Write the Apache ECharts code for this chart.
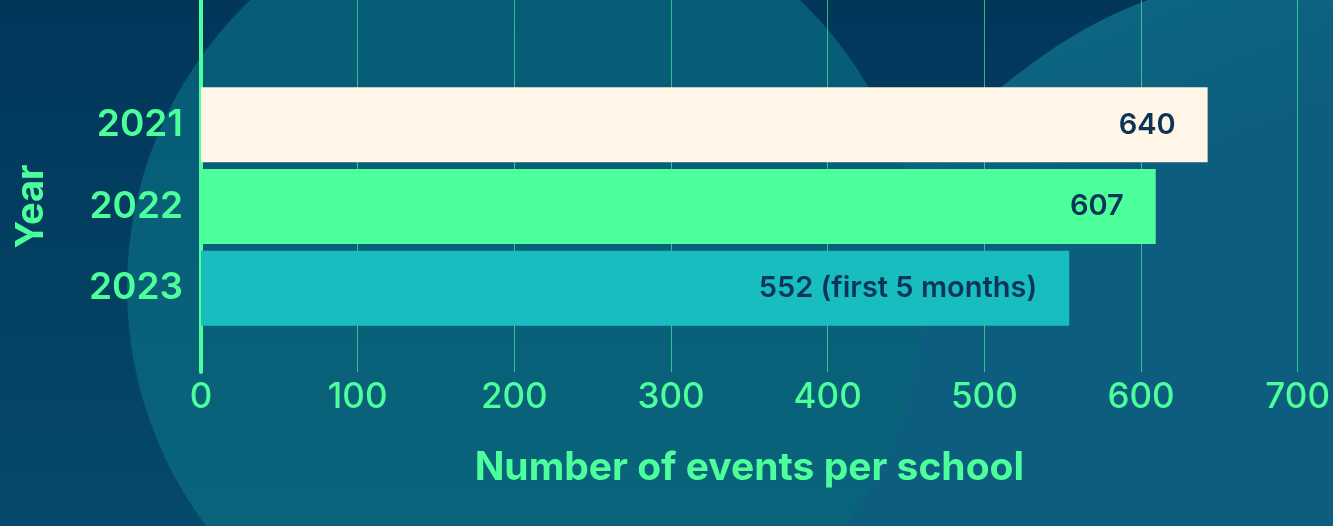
<!DOCTYPE html>
<html>
<head>
<meta charset="utf-8">
<script src="https://cdn.jsdelivr.net/npm/echarts@6/dist/echarts.min.js"></script>
<style>
html,body{margin:0;padding:0;background:#0b6a82;}
#chart{width:1333px;height:526px;}
</style>
</head>
<body>
<div id="chart"></div>
<script>
const years = ['2021', '2022', '2023'];
const values = [640, 607, 552];
const valueLabels = ['640', '607', '552 (first 5 months)'];
const barColors = ['#FFF6E8', '#4DFF9B', '#18BDC0'];
const xTicks = [0, 700, 100]; // min, max, interval
const yAxisTitle = 'Year';
const xAxisTitle = 'Number of events per school';

const GREEN = '#4DFF9B';
const FONT = 'Inter, "Noto Sans", sans-serif';

// decorative background wave (not data)
function bez(p0, p1, p2, p3, n) {
  const out = [];
  for (let i = 0; i <= n; i++) {
    const t = i / n, u = 1 - t;
    out.push([
      u*u*u*p0[0] + 3*u*u*t*p1[0] + 3*u*t*t*p2[0] + t*t*t*p3[0],
      u*u*u*p0[1] + 3*u*u*t*p1[1] + 3*u*t*t*p2[1] + t*t*t*p3[1]
    ]);
  }
  return out;
}
const wave = [[0, 0]].concat(
  bez([1148, 0], [1100, 18], [1060, 40], [1000, 88], 30),
  bez([1000, 88], [930, 140], [820, 220], [700, 320], 20),
  [[360, 526], [0, 526]]
);

const chart = echarts.init(document.getElementById('chart'), null, {renderer: 'canvas'});

const option = {
  backgroundColor: {
    type: 'linear', x: 0, y: 0, x2: 0.15, y2: 1,
    colorStops: [{offset: 0, color: '#0B7789'}, {offset: 1, color: '#0D5E7E'}]
  },
  textStyle: {fontFamily: FONT},
  graphic: [
    {
      type: 'polygon', z: -10, silent: true,
      shape: {points: wave},
      style: {
        fill: {
          type: 'linear', x: 0, y: 0, x2: 0, y2: 1,
          colorStops: [{offset: 0, color: '#013659'}, {offset: 1, color: '#05496A'}]
        }
      }
    },
    {
      type: 'circle', z: -9, silent: true,
      shape: {cx: 525, cy: 288, r: 398},
      style: {
        fill: {
          type: 'linear', x: 0, y: 0, x2: 0, y2: 1,
          colorStops: [{offset: 0, color: '#065A75'}, {offset: 1, color: '#0A667C'}]
        }
      }
    }
  ],
  grid: [
    {left: 201, right: 31, top: 84, height: 245, containLabel: false},
    {left: 201, right: 31, top: 0, height: 372, containLabel: false}
  ],
  xAxis: [
    {gridIndex: 0, type: 'value', min: xTicks[0], max: xTicks[1], show: false},
    {
      gridIndex: 1, type: 'value', min: xTicks[0], max: xTicks[1], interval: xTicks[2],
      axisLine: {show: false}, axisTick: {show: false},
      splitLine: {show: true, lineStyle: {color: 'rgba(77,255,155,0.62)', width: 1}},
      axisLabel: {color: GREEN, fontSize: 35, fontWeight: 500, margin: 8, fontFamily: FONT},
      name: xAxisTitle, nameLocation: 'middle', nameGap: 77,
      nameTextStyle: {color: GREEN, fontSize: 39, fontWeight: 'bold', fontFamily: FONT}
    }
  ],
  yAxis: [
    {
      gridIndex: 0, type: 'category', inverse: true, data: years,
      axisLine: {show: false}, axisTick: {show: false}, splitLine: {show: false},
      axisLabel: {color: GREEN, fontSize: 37, fontWeight: 600, margin: 18, fontFamily: FONT},
      name: yAxisTitle, nameLocation: 'middle', nameGap: 150, nameRotate: 90,
      nameTextStyle: {color: GREEN, fontSize: 38, fontWeight: 'bold', fontFamily: FONT}
    },
    {
      gridIndex: 1, type: 'value', min: 0, max: 1,
      axisLine: {show: true, lineStyle: {color: GREEN, width: 4, cap: 'round'}},
      axisTick: {show: false}, axisLabel: {show: false}, splitLine: {show: false}
    }
  ],
  series: [
    {
      type: 'bar', xAxisIndex: 0, yAxisIndex: 0,
      barWidth: 75,
      data: values.map((v, i) => ({value: v, itemStyle: {color: barColors[i]}})),
      label: {
        show: true, position: 'insideRight', distance: 32,
        formatter: p => valueLabels[p.dataIndex],
        color: '#0B3556', fontSize: 29, fontWeight: 600, fontFamily: FONT
      },
      z: 5
    }
  ]
};
chart.setOption(option);
</script>
</body>
</html>
